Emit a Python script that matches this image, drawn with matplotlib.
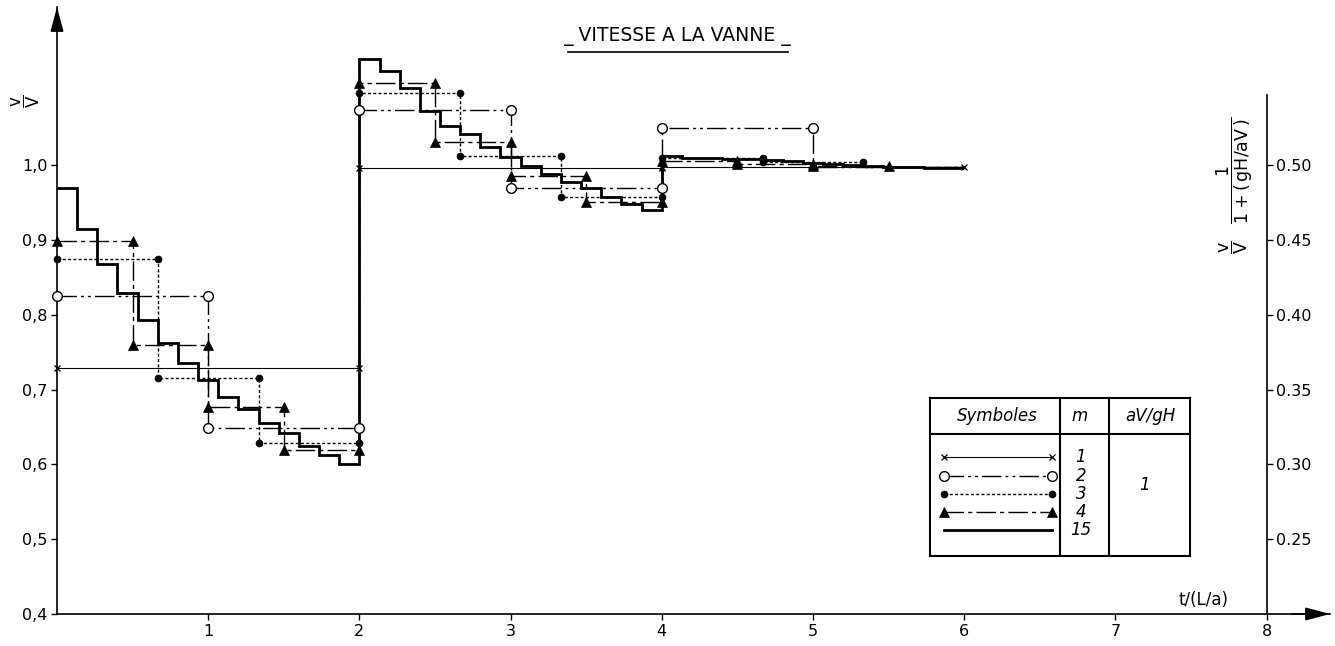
import numpy as np
import matplotlib
matplotlib.use("Agg")
import matplotlib.pyplot as plt
from matplotlib.lines import Line2D

# ---------------- data ----------------
t_end = 6.0
m1_values = [0.729, 0.996, 0.998]
m2_values = [0.825, 0.648, 1.074, 0.970, 1.050, 0.998]
m3_values = [0.875, 0.716, 0.628, 1.097, 1.012, 0.957, 1.010, 1.004, 0.998]
m4_values = [0.899, 0.760, 0.677, 0.619, 1.110, 1.031, 0.986, 0.951,
             1.005, 1.002, 0.999, 0.998]
m15_values = [0.970, 0.915, 0.868, 0.829, 0.793, 0.762, 0.736, 0.713,
              0.690, 0.674, 0.655, 0.642, 0.625, 0.613, 0.600,
              1.142, 1.126, 1.103, 1.072, 1.052, 1.042, 1.024, 1.011,
              0.999, 0.988, 0.978, 0.970, 0.957, 0.948, 0.940,
              1.012, 1.010, 1.009, 1.008, 1.008, 1.007, 1.005, 1.003,
              1.001, 1.000, 0.999, 0.998, 0.997, 0.996, 0.996]
marked_steps = {1: 3, 2: 5, 3: 8, 4: 11, 15: 0}
legend_m = ["1", "2", "3", "4", "15"]
legend_aV_gH = "1"

x_ticks = [1, 2, 3, 4, 5, 6, 7, 8]
x_tick_labels = ["1", "2", "3", "4", "5", "6", "7", "8"]
y_ticks = [0.4, 0.5, 0.6, 0.7, 0.8, 0.9, 1.0]
y_tick_labels = ["0,4", "0,5", "0,6", "0,7", "0,8", "0,9", "1,0"]
r_ticks = [0.25, 0.30, 0.35, 0.40, 0.45, 0.50]
r_tick_labels = ["0.25", "0.30", "0.35", "0.40", "0.45", "0.50"]

title = "_ VITESSE A LA VANNE _"
xlabel = "t/(L/a)"

# ---------------- styles ----------------
styles = {
    1: dict(lw=0.8, ls="-", marker="x", ms=5, mfc="k", mew=0.9),
    2: dict(lw=1.0, ls=(0, (14, 3, 2, 3, 2, 3)), marker="o", ms=7, mfc="white", mew=1.0),
    3: dict(lw=1.0, ls=(0, (2.2, 1.6)), marker="o", ms=5, mfc="k", mew=0.5),
    4: dict(lw=1.0, ls=(0, (14, 3, 3, 3)), marker="^", ms=6.5, mfc="k", mew=0.5),
    15: dict(lw=2.0, ls="-", marker=None, ms=0, mfc="k", mew=0),
}
series = {1: m1_values, 2: m2_values, 3: m3_values, 4: m4_values, 15: m15_values}

plt.rcParams["font.family"] = ["DejaVu Sans"]
plt.rcParams["mathtext.fontset"] = "dejavusans"
plt.rcParams["mathtext.default"] = "regular"

W, H = 1335, 646
fig = plt.figure(figsize=(W / 100, H / 100), dpi=100)
fig.patch.set_facecolor("white")

def fx(px):
    return px / W

def fy(py):
    return 1 - py / H

ax = fig.add_axes([fx(57), fy(614), (1330 - 57) / W, (614 - 7) / H])
ax.set_xlim(0, 8.42)
ax.set_ylim(0.4, 1.2115)

for m, vals in series.items():
    st = styles[m]
    vals = np.asarray(vals)
    edges = np.linspace(0, t_end, len(vals) + 1)
    ax.stairs(vals, edges, baseline=None, color="k", lw=st["lw"],
              linestyle=st["ls"], zorder=3 if m == 15 else 2)
    k = marked_steps[m]
    if k and st["marker"]:
        xs = np.column_stack([edges[:k], edges[1:k + 1]]).ravel()
        ys = np.repeat(vals[:k], 2)
        ax.plot(xs, ys, ls="none", marker=st["marker"], ms=st["ms"],
                mfc=st["mfc"], mec="k", mew=st["mew"], zorder=4, clip_on=False)

# spines / ticks
for s in ["top", "right"]:
    ax.spines[s].set_visible(False)
ax.spines["left"].set_linewidth(1.2)
ax.spines["bottom"].set_linewidth(1.2)
ax.set_xticks(x_ticks)
ax.set_xticklabels(x_tick_labels)
ax.set_yticks(y_ticks)
ax.set_yticklabels(y_tick_labels)
ax.tick_params(axis="both", direction="out", length=4, width=1.0,
               labelsize=11.5, pad=3)

# arrow heads of axes
ax.annotate("", xy=(0, 1), xycoords="axes fraction", xytext=(0, 0.96),
            arrowprops=dict(arrowstyle="-|>,head_length=1.5,head_width=0.4",
                            color="k", lw=1.2, shrinkA=0, shrinkB=0))
ax.annotate("", xy=(1, 0), xycoords="axes fraction", xytext=(0.97, 0),
            arrowprops=dict(arrowstyle="-|>,head_length=1.5,head_width=0.4",
                            color="k", lw=1.2, shrinkA=0, shrinkB=0))

# right axis (v/V * 1/(1+gH/aV))
ax2 = ax.twinx()
ax2.set_ylim(0.2, 1.2115 / 2)
for s in ["top", "left", "bottom"]:
    ax2.spines[s].set_visible(False)
ax2.spines["right"].set_position(("data", 8))
ax2.spines["right"].set_bounds(0.2, 0.547)
ax2.spines["right"].set_linewidth(1.2)
ax2.set_yticks(r_ticks)
ax2.set_yticklabels(r_tick_labels)
ax2.tick_params(axis="y", direction="out", length=4, width=1.0,
                labelsize=11.5, pad=3)

ax.text(7.75, 0.407, xlabel, ha="right", va="bottom", fontsize=12)

# axis labels
fig.text(fx(26), fy(101), r"$\dfrac{v}{V}$", rotation=90, fontsize=12,
         ha="center", va="center")
fig.text(fx(1235), fy(185), r"$\dfrac{v}{V}\quad\dfrac{1}{1+(\,gH/aV\,)}$",
         rotation=90, fontsize=12.5, ha="center", va="center")

# title
fig.text(fx(677), fy(37), title, ha="center", va="center", fontsize=13.5)
fig.add_artist(Line2D([fx(568), fx(788)], [fy(52), fy(52)], color="k", lw=1.2,
                      transform=fig.transFigure))

# legend table
def fline(x0, y0, x1, y1, **kw):
    fig.add_artist(Line2D([fx(x0), fx(x1)], [fy(y0), fy(y1)],
                          transform=fig.transFigure, **kw))

lw_box = 1.5
fline(930, 398, 1190, 398, color="k", lw=lw_box)
fline(930, 556, 1190, 556, color="k", lw=lw_box)
fline(930, 398, 930, 556, color="k", lw=lw_box)
fline(1190, 398, 1190, 556, color="k", lw=lw_box)
fline(930, 434, 1190, 434, color="k", lw=lw_box)
fline(1060, 398, 1060, 556, color="k", lw=lw_box)
fline(1109, 398, 1109, 556, color="k", lw=lw_box)

fig.text(fx(997), fy(416), "Symboles", style="italic", ha="center", va="center", fontsize=12)
fig.text(fx(1080), fy(416), "m", style="italic", ha="center", va="center", fontsize=12)
fig.text(fx(1150), fy(416), "aV/gH", style="italic", ha="center", va="center", fontsize=12)

row_y = [457, 476, 494, 512, 530]
for (m, lab, yy) in zip([1, 2, 3, 4, 15], legend_m, row_y):
    st = styles[m]
    fline(944, yy, 1052, yy, color="k", lw=st["lw"], linestyle=st["ls"],
          marker=st["marker"] if st["marker"] else "None", ms=st["ms"],
          mfc=st["mfc"], mec="k", mew=st["mew"])
    fig.text(fx(1081), fy(yy), lab, style="italic", ha="center", va="center", fontsize=12)
fig.text(fx(1145), fy(485), legend_aV_gH, style="italic", ha="center", va="center", fontsize=12)

fig.savefig("out.png", dpi=100, facecolor="white")
